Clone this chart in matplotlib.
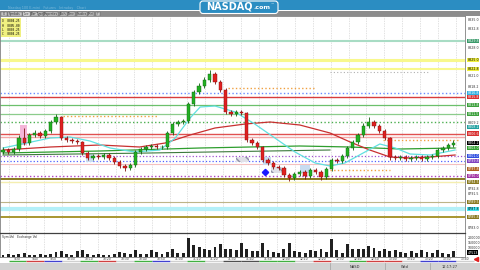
import matplotlib
matplotlib.use('Agg')
import matplotlib.pyplot as plt
from matplotlib.patches import Rectangle, FancyBboxPatch
import numpy as np

# ---- candle data (one bar per slot) ----
opens = [8802.00, 8802.50, 8802.00, 8802.75, 8805.50, 8804.25, 8806.25, 8806.75, 8806.00, 8807.25,
         8809.50, 8810.75, 8805.50, 8805.00, 8804.75, 8804.50, 8801.75, 8800.50, 8801.00, 8800.75,
         8801.25, 8800.50, 8799.50, 8798.50, 8798.00, 8798.75, 8802.00, 8802.75, 8803.25, 8803.50,
         8803.25, 8803.25, 8806.75, 8809.00, 8809.50, 8809.75, 8814.00, 8817.00, 8818.50, 8820.00,
         8821.50, 8819.50, 8817.50, 8812.00, 8811.50, 8812.00, 8811.75, 8805.00, 8804.25, 8803.25,
         8800.00, 8799.25, 8798.25, 8798.00, 8796.25, 8795.50, 8796.50, 8797.00, 8796.00, 8797.50,
         8797.00, 8795.75, 8797.75, 8800.00, 8799.75, 8801.00, 8803.00, 8804.50, 8806.25, 8808.50,
         8809.50, 8808.50, 8807.25, 8805.50, 8800.75, 8800.50, 8800.75, 8800.25, 8800.50, 8800.75,
         8800.25, 8800.75, 8801.00, 8802.50, 8803.00, 8803.75]
closes = [8802.50, 8802.00, 8802.75, 8805.50, 8804.25, 8806.25, 8806.75, 8806.00, 8807.25, 8809.50,
          8810.75, 8805.50, 8805.00, 8804.75, 8804.50, 8801.75, 8800.50, 8801.00, 8800.75, 8801.25,
          8800.50, 8799.50, 8798.50, 8798.00, 8798.75, 8802.00, 8802.75, 8803.25, 8803.50, 8803.25,
          8803.25, 8806.75, 8809.00, 8809.50, 8809.75, 8814.00, 8817.00, 8818.50, 8820.00, 8821.50,
          8819.50, 8817.50, 8812.00, 8811.50, 8812.00, 8811.75, 8805.00, 8804.25, 8803.25, 8800.00,
          8799.25, 8798.25, 8798.00, 8796.25, 8795.50, 8796.50, 8797.00, 8796.00, 8797.50, 8797.00,
          8795.75, 8797.75, 8800.00, 8799.75, 8801.00, 8803.00, 8804.50, 8806.25, 8808.50, 8809.50,
          8808.50, 8807.25, 8805.50, 8800.75, 8800.50, 8800.75, 8800.25, 8800.50, 8800.75, 8800.25,
          8800.75, 8801.00, 8802.50, 8803.00, 8803.75, 8804.25]
highs = [8803.25, 8803.00, 8803.25, 8806.25, 8808.00, 8806.75, 8807.50, 8807.25, 8807.75, 8810.00,
         8811.50, 8811.00, 8806.00, 8805.50, 8805.25, 8804.75, 8802.25, 8801.50, 8801.50, 8801.75,
         8801.75, 8801.00, 8800.00, 8799.00, 8799.25, 8802.50, 8803.25, 8803.75, 8804.00, 8804.00,
         8803.75, 8807.25, 8809.50, 8810.00, 8810.25, 8814.50, 8817.50, 8819.25, 8820.75, 8822.50,
         8822.00, 8820.00, 8818.00, 8812.50, 8812.50, 8812.50, 8812.00, 8805.50, 8804.75, 8803.50,
         8800.50, 8799.75, 8798.75, 8798.50, 8796.75, 8797.00, 8797.50, 8797.50, 8798.00, 8798.00,
         8797.50, 8798.25, 8800.50, 8800.50, 8801.50, 8803.50, 8805.00, 8806.75, 8809.25, 8810.75,
         8810.00, 8809.00, 8807.75, 8805.75, 8801.25, 8801.25, 8801.25, 8801.00, 8801.25, 8801.25,
         8801.25, 8801.50, 8803.00, 8803.50, 8804.25, 8805.00]
lows = [8801.50, 8801.50, 8801.50, 8802.25, 8803.75, 8803.75, 8805.75, 8805.50, 8805.50, 8806.75,
        8809.00, 8805.00, 8804.50, 8804.25, 8804.00, 8801.25, 8800.00, 8800.00, 8800.25, 8800.25,
        8800.00, 8799.00, 8798.00, 8797.25, 8797.50, 8798.25, 8801.50, 8802.25, 8802.75, 8802.75,
        8802.75, 8802.75, 8806.25, 8808.50, 8809.00, 8809.25, 8813.50, 8816.50, 8818.00, 8819.50,
        8819.00, 8817.00, 8811.50, 8811.00, 8811.00, 8811.25, 8804.50, 8803.75, 8802.75, 8799.50,
        8798.75, 8797.75, 8797.50, 8795.75, 8794.75, 8795.00, 8796.00, 8795.25, 8795.50, 8796.50,
        8795.00, 8795.25, 8797.25, 8799.25, 8799.25, 8800.50, 8802.50, 8804.00, 8805.75, 8808.00,
        8808.00, 8806.75, 8805.00, 8800.00, 8800.00, 8800.00, 8799.75, 8799.75, 8800.00, 8799.75,
        8799.75, 8800.25, 8800.50, 8802.00, 8802.50, 8803.25]
volume_k = [20, 30, 20, 30, 40, 20, 20, 30, 20, 30, 50, 60, 30, 20, 60, 70, 30, 20, 30, 20,
            20, 30, 50, 40, 30, 70, 30, 30, 70, 50, 30, 50, 90, 40, 40, 200, 130, 110, 90, 70,
            110, 140, 90, 80, 70, 150, 90, 60, 60, 150, 70, 50, 40, 80, 150, 60, 50, 40, 70, 60,
            90, 50, 190, 70, 40, 140, 90, 80, 90, 120, 100, 60, 90, 60, 70, 50, 40, 60, 40, 70,
            50, 40, 70, 40, 30, 60]

# moving averages read at a few bar positions
cyan_x = [0, 8.9, 12.6, 16.4, 20.2, 24.9, 29.6, 32.5, 35.3, 37.2, 40, 43.8, 47.5, 51.3, 55.1,
          58.9, 61.7, 64.5, 68.3, 71.1, 74, 76.8, 80.6, 85.3]
cyan_y = [8803.0, 8805.5, 8805.75, 8804.75, 8803.0, 8802.0, 8802.5, 8805.5, 8810.5, 8813.25,
          8813.5, 8812.0, 8809.0, 8805.5, 8802.0, 8799.25, 8798.5, 8799.25, 8802.0, 8804.0,
          8803.0, 8801.5, 8801.25, 8802.5]
red_x = [0, 8.9, 18.3, 25.8, 30.6, 35.3, 40, 45.7, 50.4, 56, 61.7, 65.5, 69.2, 73, 76.8, 80.6, 85.3]
red_y = [8802.5, 8803.25, 8803.75, 8803.25, 8804.25, 8806.25, 8808.0, 8809.0, 8809.5, 8808.75,
         8806.75, 8804.5, 8802.5, 8800.75, 8800.5, 8800.75, 8801.25]
green_x = [0, 18.3, 37.2, 56, 65.5, 74.9, 85.3]
green_y = [8801.75, 8802.25, 8803.0, 8803.5, 8803.25, 8802.75, 8803.0]
dkgreen_x = [0, 27.7, 61.7]
dkgreen_y = [8801.25, 8801.75, 8802.5]

# horizontal study levels
level_prices = [8829.75, 8825.0, 8822.75, 8816.75, 8815.75, 8813.75, 8811.5, 8809.5, 8806.6,
                8805.75, 8801.0, 8799.75, 8799.0, 8796.0, 8795.25, 8794.5, 8789.5, 8787.75, 8785.75]
level_colors = ['#a8dcc4', '#f8f88c', '#f8f88c', '#6a8cff', '#d83c3c', '#6cc06c', '#8ccc8c',
                '#4caf50', '#e05050', '#f4a8a8', '#a050d0', '#5060ff', '#f4c0c0', '#b040c0',
                '#8a7a20', '#f4eeb0', '#bdb488', '#b4f0f8', '#a89630']
level_ls = ['-', '-', '-', ':', '-', '-', '-', ':', '-', '-', ':', ':', '-', ':', '-', '-', '-', '-', '-']
level_lw = [1.5, 2.2, 1.5, 1.0, 1.0, 0.9, 0.9, 1.0, 1.0, 1.0, 0.9, 0.9, 0.8, 1.0, 1.4, 1.0, 0.8, 3.0, 1.4]
label_bg = ['#3a9a6a', '#f0f040', '#f0f040', '#30b0e0', '#d83030', '#3ca03c', '#3ca03c', None,
            '#d83030', None, '#3050e0', '#8040c0', None, '#a030a0', None, '#8a7a20',
            '#8a7a20', '#40e8f4', '#8a7a20']
label_fg = ['white', 'black', 'black', 'white', 'white', 'white', 'white', 'black', 'white',
            'white', 'white', 'white', 'black', 'white', 'white', 'white', 'white', 'black', 'white']

# partial dotted lines (price, from bar, to bar)
seg_prices = [8818.0, 8811.0, 8805.0, 8797.5]
seg_start = [42.5, 11.3, 71.7, 61.7]
seg_end = [58.9, 29.0, 86.2, 73.0]

extra_labels = [8808.25, 8804.25, 8803.0, 8797.75]
extra_bg = ['#20a0a0', '#000000', '#30a030', '#b06020']
plain_ticks = [8835.0, 8832.75, 8828.0, 8821.0, 8818.25, 8809.25, 8792.75, 8791.5, 8783.0]

vol_ticks = [200000, 150000, 100000]
seg_colors = ['#40b040', '#d04040', '#4040d0', '#d0d0d0', '#40b040', '#d04040', '#d0d0d0',
              '#40b040', '#4040d0', '#d0d0d0', '#40b040', '#d0d0d0', '#505050', '#505050',
              '#40b040', '#40b040', '#d0d0d0', '#d04040', '#d0d0d0', '#40b040', '#d04040',
              '#d04040', '#d0d0d0', '#4040d0', '#4040d0', '#d0d0d0']
time_labels = ['9:30', '9:40', '9:50', '10:00', '10:10', '10:20', '10:30', '10:40', '10:50',
               '11:00', '11:10', '11:20', '11:30', '11:40', '11:50', '12:00', '12:10', '12:20',
               '12:30', '12:40', '12:50', '13:00', '13:10', '13:20', '13:30', '13:40']

W, H = 480, 270
fig = plt.figure(figsize=(4.8, 2.7), dpi=100)


def box(x0, y0, x1, y1):
    return [x0 / W, 1 - y1 / H, (x1 - x0) / W, (y1 - y0) / H]


# page chrome in pixel coordinates
bg = fig.add_axes([0, 0, 1, 1])
bg.set_xlim(0, W)
bg.set_ylim(H, 0)
bg.axis('off')
bg.add_patch(Rectangle((0, 0), W, 9.5, color='#2b8dc2', lw=0))
bg.add_patch(Rectangle((0, 10.5), W, 5.5, color='#8c8c8c', lw=0))
bg.add_patch(FancyBboxPatch((200, 1.0), 78, 12.5, boxstyle='round,pad=0,rounding_size=3',
                            fc='#2b8dc2', ec='white', lw=0.8))
bg.text(229, 6.8, 'NASDAQ', color='white', fontsize=7, fontweight='bold', ha='center', va='center')
bg.text(253, 7.8, '.com', color='white', fontsize=4.5, fontweight='bold', ha='left', va='center')
bg.text(272, 3.2, '\u2122', color='white', fontsize=2.5, ha='center', va='center')
bg.text(8, 8, 'Nasdaq 100 E-mini   Futures   Intraday   Chart', color='#7ab8da', fontsize=2.4, va='center')
buttons = [(1, 7), (8, 22), (23, 30), (31, 43), (44, 58), (60, 67), (68, 75), (77, 87), (88, 94), (96, 100)]
btn_text = ['X', 'Symbols', 'Line', 'Bar Type', 'Properties', 'Tools', 'Time', 'Studies', 'Print', '?']
for (a, b), t in zip(buttons, btn_text):
    bg.add_patch(Rectangle((a, 11.5), b - a, 4, fc='#e8e8e8' if t == 'Line' else '#c4c4c4',
                           ec='#606060', lw=0.3))
    bg.text((a + b) / 2, 13.6, t, fontsize=2, ha='center', va='center', color='#202020')
# status bar
bg.add_patch(Rectangle((0, 262.5), W, 7.5, color='#d2d2d2', lw=0))
for sx in [330, 385, 430]:
    bg.plot([sx, sx], [263, 270], color='#a0a0a0', lw=0.5)
bg.text(355, 266.5, 'NASD', fontsize=2.6, ha='center', va='center', color='#303030')
bg.text(405, 266.5, 'Wed', fontsize=2.6, ha='center', va='center', color='#303030')
bg.text(450, 266.5, '12:17:27', fontsize=2.6, ha='center', va='center', color='#303030')
bg.plot([476], [258.5], marker='<', color='#e02020', ms=3)

# ---- price panel ----
ax = fig.add_axes(box(0, 16, 465, 233))
ax.set_xlim(-0.566, 87.17)
ax.set_ylim(8781.75, 8836.0)
ax.set_xticks([])
ax.set_yticks([])
for s in ax.spines.values():
    s.set_color('#808080')
    s.set_linewidth(0.6)

grid_x = np.arange(1.04, 87.5, 3.377)
for gx in grid_x:
    ax.axvline(gx, color='#d6d6d6', lw=0.5, ls=(0, (2, 1.5)), zorder=0)

for p, c, ls, lw in zip(level_prices, level_colors, level_ls, level_lw):
    ax.axhline(p, color=c, ls=ls, lw=lw, zorder=1)
for p, a, b in zip(seg_prices, seg_start, seg_end):
    ax.hlines(p, a, b, color='#f0a040', ls=':', lw=1.0, zorder=1)
ax.hlines(8822.0, 61.7, 80.6, color='#b0b0b0', ls=(0, (1, 2)), lw=0.8, zorder=1)

# highlight boxes
ax.add_patch(Rectangle((3.3, 8803.75), 1.3, 5.0, fc='#f4b6d8', ec='none', zorder=1.5))
for (x0, x1, y0, y1) in [(15.6, 17.0, 8799.5, 8801.5), (49.0, 50.5, 8798.75, 8800.75),
                         (56.0, 58.0, 8796.75, 8798.75)]:
    ax.add_patch(Rectangle((x0, y0), x1 - x0, y1 - y0, fc='#c8dcf0', ec='none', zorder=1.5))
for (x0, x1, y0, y1) in [(44.0, 46.5, 8799.5, 8800.75), (50.5, 52.6, 8796.75, 8798.25)]:
    ax.add_patch(Rectangle((x0, y0), x1 - x0, y1 - y0, fc='#e0e0e8', ec='#9090a8',
                           hatch='\\\\\\', lw=0, zorder=1.5))

ax.plot(dkgreen_x, dkgreen_y, color='#3c7a3c', lw=0.8, zorder=2)
ax.plot(green_x, green_y, color='#2e9e2e', lw=0.9, zorder=2)
ax.plot(red_x, red_y, color='#c83030', lw=0.9, zorder=2)
ax.plot(cyan_x, cyan_y, color='#60e0e0', lw=0.9, zorder=2)

idx = np.arange(len(closes))
o = np.array(opens)
c = np.array(closes)
up = c >= o
body_col = np.where(up, '#22b022', '#e02020')
edge_col = np.where(up, '#106010', '#801010')
ax.vlines(idx, lows, highs, colors=edge_col, lw=0.6, zorder=3)
body_h = np.maximum(np.abs(c - o), 0.12)
ax.bar(idx, body_h, bottom=np.minimum(o, c), width=0.62, color=body_col,
       edgecolor=edge_col, lw=0.3, zorder=4)
ax.plot([49.4], [8797.0], marker='D', color='#1a1aff', ms=3.2, zorder=5)

# right-side labels
ytr = ax.get_yaxis_transform()
lab = dict(fontsize=2.3, ha='left', va='center', transform=ytr, clip_on=False)
for p in plain_ticks:
    ax.text(1.005, p, '%.1f' % p, color='#303030', **lab)
for p, b, f in zip(level_prices, label_bg, label_fg):
    if b is None:
        continue
    ax.text(1.005, p, '%.1f' % p, color=f,
            bbox=dict(boxstyle='square,pad=0.12', fc=b, ec='none'), **lab)
for p, b in zip(extra_labels, extra_bg):
    ax.text(1.005, p, '%.1f' % p, color='white',
            bbox=dict(boxstyle='square,pad=0.12', fc=b, ec='none'), **lab)

# OHLC legend box
ax.text(0.005, 0.985, 'O  8804.25\nH  8805.00\nL  8803.25\nC  8804.25', transform=ax.transAxes,
        fontsize=2.2, va='top', ha='left', linespacing=1.1, family='DejaVu Sans Mono',
        bbox=dict(boxstyle='square,pad=0.3', fc='#f0f080', ec='none'), zorder=6)

# ---- volume panel ----
axv = fig.add_axes(box(0, 233, 465, 257))
axv.set_xlim(-0.566, 87.17)
axv.set_ylim(0, 255000)
axv.set_xticks([])
axv.set_yticks([])
for s in axv.spines.values():
    s.set_color('#808080')
    s.set_linewidth(0.6)
axv.spines['top'].set_color('#404040')
axv.spines['top'].set_linewidth(0.9)
for gx in grid_x:
    axv.axvline(gx, color='#d6d6d6', lw=0.5, ls=(0, (2, 1.5)), zorder=0)
axv.bar(idx, np.array(volume_k) * 1000, width=0.55, color='#202020', zorder=2)
axv.text(0.005, 0.9, 'Sym:Vol   Exchange Vol', transform=axv.transAxes, fontsize=2.2,
         va='top', color='#303030')
vtr = axv.get_yaxis_transform()
for v in vol_ticks:
    axv.text(1.005, v, '%d' % v, color='#303030', fontsize=2.3, ha='left', va='center',
             transform=vtr, clip_on=False)
axv.text(1.005, 45000, '47513', color='white', fontsize=2.3, ha='left', va='center',
         transform=vtr, clip_on=False, bbox=dict(boxstyle='square,pad=0.12', fc='black', ec='none'))

# time strip under the panels
for k, (gx, col) in enumerate(zip(grid_x, seg_colors)):
    px0 = 3 + gx * 5.3
    bg.plot([px0, px0 + 17.9], [261.3, 261.3], color=col, lw=1.0, solid_capstyle='butt')
    bg.text(px0 + 9, 258.8, time_labels[k], fontsize=2.2, ha='center', va='center', color='#303030')

fig.savefig('out.png', dpi=100)
